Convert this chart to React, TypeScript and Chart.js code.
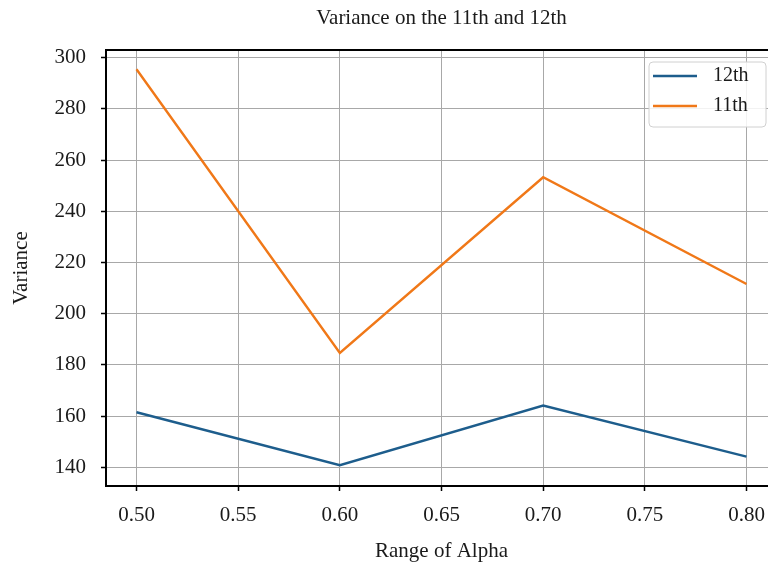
import React, { useEffect, useRef } from "react";
import { Chart, registerables } from "chart.js";

Chart.register(...registerables);

const alphas = [0.5, 0.6, 0.7, 0.8];
const variance12 = [161.5, 140.8, 164.1, 144.2];
const variance11 = [295.5, 184.7, 253.3, 211.6];
const seriesNames = ["12th", "11th"];
const seriesColors = ["#1d5d8c", "#f07818"];
const xTicks = [0.5, 0.55, 0.6, 0.65, 0.7, 0.75, 0.8];
const yTicks = [140, 160, 180, 200, 220, 240, 260, 280, 300];
const chartTitle = "Variance on the 11th and 12th";
const xLabel = "Range of Alpha";
const yLabel = "Variance";

const FONT = "'Liberation Serif', 'DejaVu Serif', serif";
const CANVAS_W = 785;
const CANVAS_H = 568;
const TEXT_COLOR = "#1a1a1a";

const decorPlugin = {
  id: "decor",
  afterDraw(chart: any) {
    const { ctx, chartArea } = chart;
    const { left, right, top, bottom } = chartArea;
    ctx.save();
    ctx.strokeStyle = "#000";
    ctx.lineWidth = 2;
    ctx.beginPath();
    ctx.moveTo(left - 1, top);
    ctx.lineTo(right, top);
    ctx.stroke();
    ctx.beginPath();
    ctx.moveTo(right, top);
    ctx.lineTo(right, bottom);
    ctx.stroke();

    ctx.fillStyle = TEXT_COLOR;
    ctx.font = `21px ${FONT}`;
    ctx.textAlign = "center";
    ctx.textBaseline = "middle";
    ctx.fillText(chartTitle, (left + right) / 2, 18);
    ctx.fillText(xLabel, (left + right) / 2, 551);
    ctx.save();
    ctx.translate(21, (top + bottom) / 2);
    ctx.rotate(-Math.PI / 2);
    ctx.fillText(yLabel, 0, 0);
    ctx.restore();

    const bx = 649, by = 62, bw = 117, bh = 65, r = 4;
    ctx.beginPath();
    ctx.moveTo(bx + r, by);
    ctx.lineTo(bx + bw - r, by);
    ctx.quadraticCurveTo(bx + bw, by, bx + bw, by + r);
    ctx.lineTo(bx + bw, by + bh - r);
    ctx.quadraticCurveTo(bx + bw, by + bh, bx + bw - r, by + bh);
    ctx.lineTo(bx + r, by + bh);
    ctx.quadraticCurveTo(bx, by + bh, bx, by + bh - r);
    ctx.lineTo(bx, by + r);
    ctx.quadraticCurveTo(bx, by, bx + r, by);
    ctx.closePath();
    ctx.fillStyle = "rgba(255,255,255,0.85)";
    ctx.fill();
    ctx.strokeStyle = "#d0d0d0";
    ctx.lineWidth = 1;
    ctx.stroke();

    const datasets = chart.data.datasets;
    datasets.forEach((ds: any, i: number) => {
      const y = 76 + i * 30;
      ctx.strokeStyle = ds.borderColor;
      ctx.lineWidth = 2.5;
      ctx.beginPath();
      ctx.moveTo(653, y);
      ctx.lineTo(697, y);
      ctx.stroke();
      ctx.fillStyle = TEXT_COLOR;
      ctx.font = `20px ${FONT}`;
      ctx.textAlign = "left";
      ctx.textBaseline = "middle";
      ctx.fillText(ds.label, 713, y);
    });
    ctx.restore();
  },
};

export default function App() {
  const canvasRef = useRef<HTMLCanvasElement | null>(null);

  useEffect(() => {
    if (!canvasRef.current) return;
    const toPoints = (vals: number[]) => alphas.map((a, i) => ({ x: a, y: vals[i] }));
    const gridOpts = {
      color: "#a8a8a8",
      lineWidth: 1,
      drawTicks: true,
      tickLength: 5,
      tickColor: "#000",
      tickWidth: 1.5,
    };
    const chart = new Chart(canvasRef.current, {
      type: "line",
      data: {
        datasets: [
          {
            label: seriesNames[0],
            data: toPoints(variance12),
            borderColor: seriesColors[0],
            backgroundColor: seriesColors[0],
            borderWidth: 2.4,
            pointRadius: 0,
            tension: 0,
          },
          {
            label: seriesNames[1],
            data: toPoints(variance11),
            borderColor: seriesColors[1],
            backgroundColor: seriesColors[1],
            borderWidth: 2.4,
            pointRadius: 0,
            tension: 0,
          },
        ],
      },
      options: {
        animation: false,
        responsive: false,
        devicePixelRatio: 1,
        layout: { padding: { left: 0, top: 50, right: CANVAS_W - 777, bottom: 0 } },
        plugins: {
          legend: { display: false },
          title: { display: false },
          tooltip: { enabled: false },
        },
        scales: {
          x: {
            type: "linear",
            min: 0.485,
            max: 0.815,
            afterBuildTicks: (scale: any) => {
              scale.ticks = xTicks.map((v) => ({ value: v }));
            },
            afterFit: (scale: any) => {
              scale.height = CANVAS_H - 486;
            },
            grid: gridOpts,
            border: { color: "#000", width: 2 },
            ticks: {
              color: TEXT_COLOR,
              font: { family: FONT, size: 21 },
              padding: 12,
              maxRotation: 0,
              callback: (v: any) => Number(v).toFixed(2),
            },
          },
          y: {
            type: "linear",
            min: 132.7,
            max: 303.0,
            afterBuildTicks: (scale: any) => {
              scale.ticks = yTicks.map((v) => ({ value: v }));
            },
            afterFit: (scale: any) => {
              scale.width = 106;
            },
            grid: gridOpts,
            border: { color: "#000", width: 2 },
            ticks: {
              color: TEXT_COLOR,
              font: { family: FONT, size: 21 },
              padding: 15,
              callback: (v: any) => String(v),
            },
          },
        },
      },
      plugins: [decorPlugin],
    });
    return () => chart.destroy();
  }, []);

  return (
    <div
      style={{
        position: "fixed",
        left: 0,
        top: 0,
        width: 768,
        height: 568,
        overflow: "hidden",
        background: "#fff",
      }}
    >
      <canvas
        ref={canvasRef}
        width={CANVAS_W}
        height={CANVAS_H}
        style={{ width: CANVAS_W, height: CANVAS_H, display: "block" }}
      />
    </div>
  );
}
